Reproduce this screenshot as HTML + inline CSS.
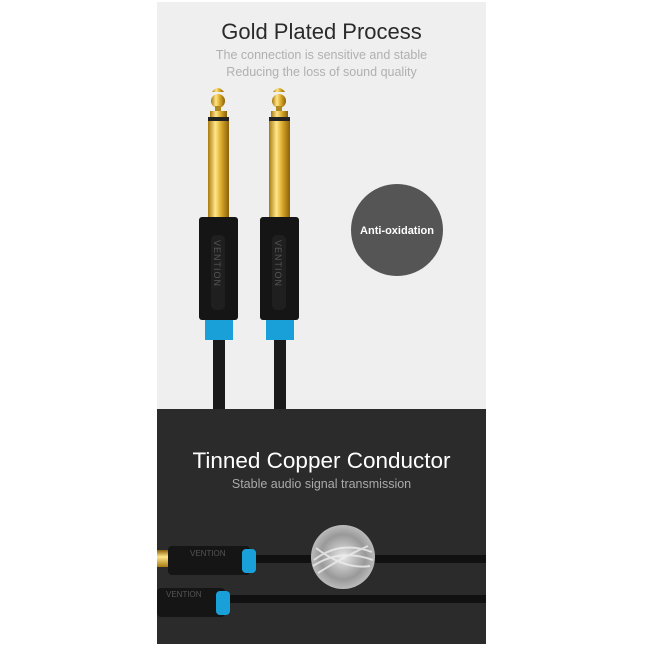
<!DOCTYPE html>
<html><head><meta charset="utf-8"><style>
body{margin:0;width:670px;height:670px;background:#fff;position:relative;overflow:hidden;font-family:"Liberation Sans",sans-serif}
.a{position:absolute}
</style></head><body>
<div class="a" style="left:157px;top:2px;width:329px;height:407px;background:#efefef"></div>
<div class="a" style="left:157px;top:409px;width:329px;height:235px;background:#2b2b2b"></div>
<div class="a" style="left:157px;top:19px;width:329px;text-align:center;font-size:22px;color:#2a2a2a">Gold Plated Process</div>
<div class="a" style="left:157px;top:47px;width:329px;text-align:center;font-size:12.5px;line-height:17px;color:#b0b0b0">The connection is sensitive and stable<br>Reducing the loss of sound quality</div>

<svg class="a" style="left:0;top:0" width="670" height="670">
<defs>
<linearGradient id="g" x1="0" x2="1"><stop offset="0" stop-color="#a87a10"/><stop offset=".35" stop-color="#ffe68a"/><stop offset=".6" stop-color="#e0b030"/><stop offset="1" stop-color="#8a6008"/></linearGradient>
<linearGradient id="gv" y1="0" y2="1" x1="0" x2="0"><stop offset="0" stop-color="#8a6008"/><stop offset=".4" stop-color="#ffe68a"/><stop offset="1" stop-color="#a87a10"/></linearGradient>
<radialGradient id="w" cx=".5" cy=".5" r=".5"><stop offset="0" stop-color="#e8e8e8"/><stop offset=".7" stop-color="#999"/><stop offset="1" stop-color="#bbb"/></radialGradient>
</defs>
<g id="p">
<rect x="213" y="330" width="12" height="79" fill="#1a1a1a"/>
<rect x="205" y="318" width="28" height="22" fill="#1aa0d8"/>
<circle cx="218" cy="101" r="7" fill="url(#g)"/>
<path d="M212 92 Q218 84 224 92Z" fill="url(#g)"/>
<rect x="215" y="106" width="6" height="6" fill="#b08820"/>
<rect x="210" y="111" width="17" height="6" fill="url(#g)"/>
<rect x="208" y="117" width="21" height="4" fill="#222"/>
<rect x="208" y="121" width="21" height="97" fill="url(#g)"/>
<rect x="199" y="217" width="39" height="103" rx="3" fill="#151515"/>
<rect x="211" y="235" width="14" height="75" rx="5" fill="#1f1f1f"/>
<text x="0" y="0" transform="translate(214,240) rotate(90)" font-size="9" fill="#555" letter-spacing="1">VENTION</text>
</g>
<use href="#p" x="61"/>
<circle cx="397" cy="230" r="46" fill="#555"/>
<text x="397" y="234" text-anchor="middle" font-size="11" font-weight="bold" fill="#fff">Anti-oxidation</text>

<rect x="250" y="555" width="236" height="8" fill="#111"/>
<rect x="157" y="550" width="20" height="17" fill="url(#gv)"/>
<rect x="168" y="546" width="82" height="29" rx="4" fill="#151515"/>
<rect x="242" y="549" width="14" height="24" rx="4" fill="#1aa0d8"/>
<text x="190" y="556" font-size="8" fill="#555">VENTION</text>
<rect x="225" y="595" width="261" height="8" fill="#111"/>
<rect x="157" y="588" width="68" height="29" rx="4" fill="#151515"/>
<rect x="216" y="591" width="14" height="24" rx="4" fill="#1aa0d8"/>
<text x="166" y="597" font-size="8" fill="#555">VENTION</text>
<circle cx="343" cy="557" r="32" fill="url(#w)"/>
<g stroke="#eee" stroke-width="2" fill="none" opacity=".8">
<path d="M314 560 Q340 540 372 552"/><path d="M313 566 Q340 548 373 560"/><path d="M316 548 Q345 570 370 566"/><path d="M318 573 Q345 556 368 546"/>
</g>
</svg>
<div class="a" style="left:157px;top:448px;width:329px;text-align:center;font-size:22.5px;color:#fff">Tinned Copper Conductor</div>
<div class="a" style="left:157px;top:477px;width:329px;text-align:center;font-size:12.5px;color:#aaa">Stable audio signal transmission</div>
</body></html>
